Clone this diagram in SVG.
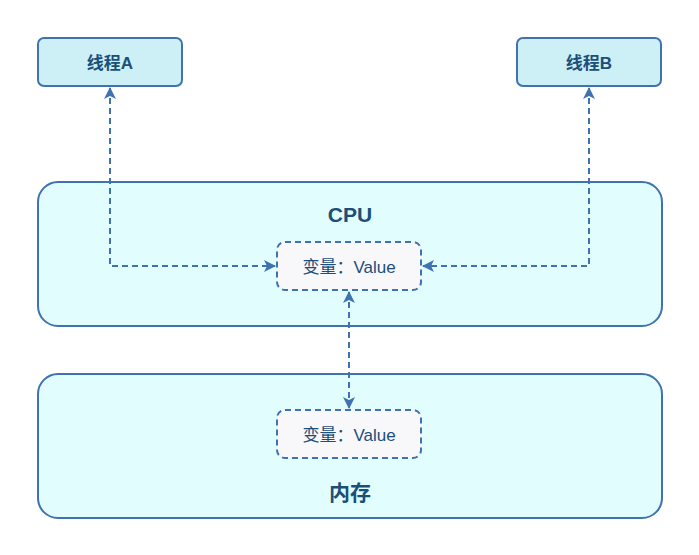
<svg xmlns="http://www.w3.org/2000/svg" width="699" height="555" viewBox="0 0 699 555">
<defs>
<style>
.thread{fill:#CCF0F5;stroke:#3F72B0;stroke-width:2}
.big{fill:#E1FDFE;stroke:#3F72B0;stroke-width:2}
.var{fill:#F8F7F9;stroke:#3F72B0;stroke-width:2;stroke-dasharray:6 4}
.t{font-family:"Liberation Sans","Noto Sans CJK SC",sans-serif;fill:#1B4F7A;text-anchor:middle;dominant-baseline:central}
.tb{font-weight:bold;font-size:17px}
.th{font-weight:bold;font-size:21px}
.tv{font-size:17px}
.conn{fill:none;stroke:#3F72B0;stroke-width:2;stroke-dasharray:6 4}
</style>
<marker id="ah" viewBox="0 0 12 12" refX="11" refY="6" markerWidth="12" markerHeight="12" orient="auto-start-reverse" markerUnits="userSpaceOnUse">
<path d="M0,0 L12,6 L0,12 L3,6 Z" fill="#3F72B0" stroke="none"/>
</marker>
</defs>
<rect width="699" height="555" fill="#FFFFFF"/>
<g id="cpu">
<rect class="big" x="38" y="182" width="624" height="144" rx="20"/>
<text class="t th" x="350" y="214">CPU</text>
</g>
<g id="memory">
<rect class="big" x="38" y="374" width="624" height="144" rx="20"/>
<text class="t th" x="350" y="492">内存</text>
</g>
<g id="threadA">
<rect class="thread" x="38" y="38" width="144" height="48" rx="6"/>
<text class="t tb" x="110" y="63">线程A</text>
</g>
<g id="threadB">
<rect class="thread" x="517" y="38" width="144" height="48" rx="6"/>
<text class="t tb" x="589" y="63">线程B</text>
</g>
<g id="cpuVar">
<rect class="var" x="277" y="242" width="144" height="48" rx="8"/>
<text class="t tv" x="349" y="267">变量：Value</text>
</g>
<g id="memVar">
<rect class="var" x="277" y="410" width="144" height="48" rx="8"/>
<text class="t tv" x="349" y="435">变量：Value</text>
</g>
<g id="connectors">
<path class="conn" d="M110,88 L110,266 L275,266" marker-start="url(#ah)" marker-end="url(#ah)"/>
<path class="conn" d="M589,88 L589,266 L423,266" marker-start="url(#ah)" marker-end="url(#ah)"/>
<path class="conn" d="M349,292 L349,408" marker-start="url(#ah)" marker-end="url(#ah)"/>
</g>
</svg>
